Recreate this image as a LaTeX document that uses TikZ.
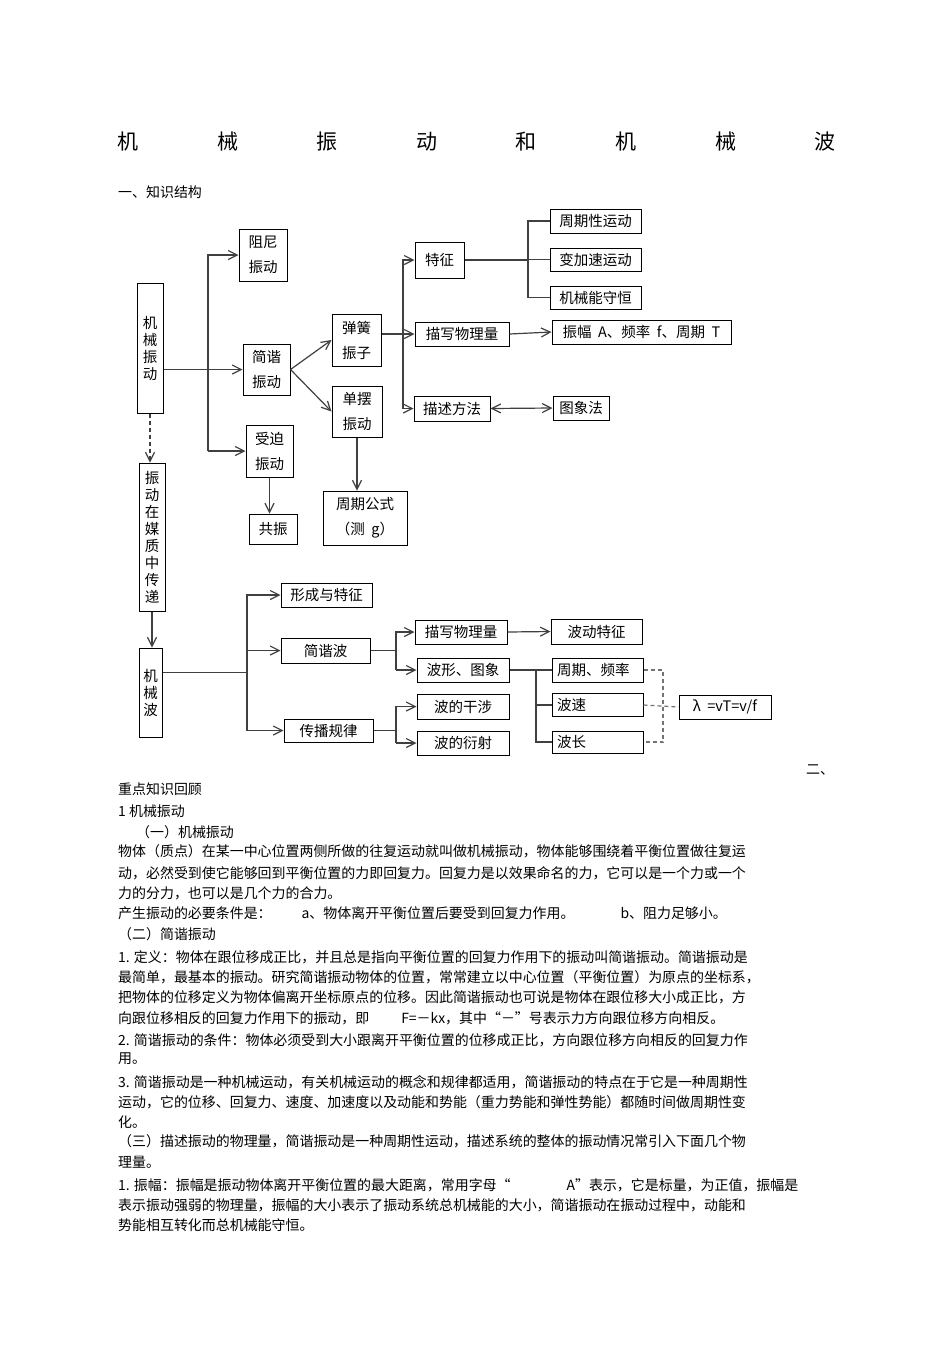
\documentclass[tikz,border=0pt]{standalone}
\usepackage{fontspec}
\setmainfont{Noto Sans CJK SC}
\usetikzlibrary{arrows.meta}
\tikzset{
  box/.style = {draw, line width=1pt, inner sep=0pt, align=center, font=\fontsize{14.5}{25}\selectfont},
  vbox/.style = {box, font=\fontsize{14.5}{17}\selectfont},
  lbox/.style = {box, align=left, text width=81pt, inner xsep=5pt},
  wh/.style 2 args = {minimum width=#1pt, minimum height=#2pt},
  ln/.style = {black!75, line width=1.2pt},
  arr/.style = {ln, -{Straight Barb[length=9pt,width=9pt]}},
  both/.style = {ln, {Straight Barb[length=9pt,width=9pt]}-{Straight Barb[length=9pt,width=9pt]}},
  dsh/.style = {black!55, line width=1.2pt, dash pattern=on 4pt off 3pt},
  txt/.style = {anchor=west, inner sep=0pt, font=\fontsize{13.95}{16}\selectfont},
}
\begin{document}
\begin{tikzpicture}[x=1pt, y=-1pt]
\fill[white] (0,0) rectangle (950,1345);
\useasboundingbox (0,0) rectangle (950,1345);

\foreach \c [count=\i] in {机,械,振,动,和,机,械,波}
  \node[font=\fontsize{21}{21}\selectfont] (ti\i) at ({128+99.6*(\i-1)},142) {\c};
\node[txt] (h1) at (118,192) {一、知识结构};

% vibration
\node[vbox, wh={26}{130}] (jxzd) at (150,348) {机\\械\\振\\动};
\node[vbox, wh={26}{148}] (zdcb) at (152,537) {振\\动\\在\\媒\\质\\中\\传\\递};
\node[vbox, wh={23}{89}] (jxb) at (150.5,692.5) {机\\械\\波};
\node[box, wh={48}{52}] (zn) at (263,255) {阻尼\\振动};
\node[box, wh={47}{51}] (jx) at (266.5,369.5) {简谐\\振动};
\node[box, wh={47}{52}] (sp) at (269.5,451) {受迫\\振动};
\node[box, wh={48}{30}] (gz) at (273,529) {共振};
\node[box, wh={49}{52}] (th) at (356.5,340) {弹簧\\振子};
\node[box, wh={50}{51}] (db) at (357,411.5) {单摆\\振动};
\node[box, wh={84}{54}] (zqgs) at (365,518) {周期公式\\（测\ \ g）};
\node[box, wh={49}{36}] (tz) at (439.5,260) {特征};
\node[box, wh={94}{24}] (mx) at (462,334) {描写物理量};
\node[box, wh={76}{25}] (ms) at (452,408.5) {描述方法};
\node[box, wh={91}{24}] (zqx) at (595.5,221) {周期性运动};
\node[box, wh={91}{23}] (bjs) at (595.5,259.5) {变加速运动};
\node[box, wh={91}{23}] (jxn) at (595.5,297.5) {机械能守恒};
\node[box, wh={179}{24}] (zf) at (641.5,332) {振幅\ \ A、频率\ \ f、周期\ \ T};
\node[box, wh={56}{24}] (txf) at (581,408) {图象法};

% wave
\node[box, wh={91}{24}] (xc) at (326.5,595) {形成与特征};
\node[box, wh={89}{25}] (jxbo) at (325.5,650.5) {简谐波};
\node[box, wh={89}{23}] (cb) at (328.5,730.5) {传播规律};
\node[box, wh={92}{24}] (mxb) at (461,632) {描写物理量};
\node[box, wh={92}{24}] (bx) at (463,670) {波形、图象};
\node[box, wh={92}{25}] (gs) at (463,706.5) {波的干涉};
\node[box, wh={92}{24}] (ys) at (463,743) {波的衍射};
\node[box, wh={91}{25}] (bdtz) at (596.5,631.5) {波动特征};
\node[lbox, wh={91}{24}] (zqpl) at (597.5,670) {周期、频率};
\node[lbox, wh={91}{23}] (bs) at (597.5,705) {波速};
\node[lbox, wh={91}{22}] (bc) at (597.5,742) {波长};
\node[box, wh={92}{24}] (lam) at (725,707) {λ\ \ =vT=v/f};

\coordinate (b1) at (208,0);
\coordinate (b2) at (403,0);
\coordinate (b3) at (528,0);
\coordinate (b4) at (247,0);
\coordinate (b5) at (396,0);
\coordinate (b6) at (536,0);
\coordinate (b7) at (663,0);
\coordinate (jxbout) at ([yshift=20pt]jxb.east);

\draw[arr] (jxzd.east |- jx.west) -- (jx.west);
\draw[arr] (b1 |- sp.west) -- (b1 |- zn.west) -- (zn.west);
\draw[arr] (b1 |- sp.west) -- (sp.west);
\draw[arr] (jx.east) -- (th.west);
\draw[arr] (jx.east) -- (db.west);
\draw[arr] (db.south) -- (db.south |- zqgs.north);
\draw[arr] (sp.south) -- (sp.south |- gz.north);
\draw[arr, dash pattern=on 4pt off 3pt] (jxzd.south) -- (jxzd.south |- zdcb.north);
\draw[arr] (zdcb.south) -- (zdcb.south |- jxb.north);

\draw[arr] (th.east |- mx.west) -- (mx.west);
\draw[arr] (b2 |- ms.west) -- (b2 |- tz.west) -- (tz.west);
\draw[arr] (b2 |- ms.west) -- (ms.west);
\draw[ln] (tz.east) -- (b3 |- tz.east);
\draw[ln] (zqx.west) -- (b3 |- zqx.west) -- (b3 |- jxn.west) -- (jxn.west);
\draw[ln] (b3 |- bjs.west) -- (bjs.west);
\draw[arr] (mx.east) -- (zf.west);
\draw[both] (ms.east) -- (txf.west);

\draw[ln] (jxbout) -- (b4 |- jxbout);
\draw[arr] (b4 |- cb.west) -- (b4 |- xc.west) -- (xc.west);
\draw[arr] (b4 |- jxbo.west) -- (jxbo.west);
\draw[arr] (b4 |- cb.west) -- (cb.west);
\draw[ln] (jxbo.east) -- (b5 |- jxbo.east);
\draw[arr] (b5 |- bx.west) -- (b5 |- mxb.west) -- (mxb.west);
\draw[arr] (b5 |- bx.west) -- (bx.west);
\draw[ln] (cb.east) -- (b5 |- cb.east);
\draw[arr] (b5 |- ys.west) -- (b5 |- gs.west) -- (gs.west);
\draw[arr] (b5 |- ys.west) -- (ys.west);
\draw[arr] (mxb.east) -- (bdtz.west);
\draw[ln] (bx.east) -- (b6 |- bx.east);
\draw[ln] (zqpl.west) -- (b6 |- zqpl.west) -- (b6 |- bc.west) -- (bc.west);
\draw[ln] (b6 |- bs.west) -- (bs.west);
\draw[dsh] (zqpl.east) -- (b7 |- zqpl.east) -- (b7 |- bc.east) -- (bc.east);
\draw[dsh] (bs.east) -- (lam.west);

% text
\node[txt] (s2) at (806,770) {二、};
\node[txt] (p1) at (118,789) {重点知识回顾};
\node[txt] (p2) at (118,811) {1 机械振动};
\node[txt] (p3) at (136,832) {（一）机械振动};
\node[txt] (p4) at (118,851) {物体（质点）在某一中心位置两侧所做的往复运动就叫做机械振动，物体能够围绕着平衡位置做往复运};
\node[txt] (p5) at (118,873) {动，必然受到使它能够回到平衡位置的力即回复力。回复力是以效果命名的力，它可以是一个力或一个};
\node[txt] (p6) at (118,893) {力的分力，也可以是几个力的合力。};
\node[txt] (p7) at (118,913) {产生振动的必要条件是：\hspace{30pt}a、物体离开平衡位置后要受到回复力作用。\hspace{46pt}b、阻力足够小。};
\node[txt] (p8) at (118,934) {（二）简谐振动};
\node[txt] (p9) at (118,957) {1. 定义：物体在跟位移成正比，并且总是指向平衡位置的回复力作用下的振动叫简谐振动。简谐振动是};
\node[txt] (p10) at (118,977) {最简单，最基本的振动。研究简谐振动物体的位置，常常建立以中心位置（平衡位置）为原点的坐标系，};
\node[txt] (p11) at (118,997) {把物体的位移定义为物体偏离开坐标原点的位移。因此简谐振动也可说是物体在跟位移大小成正比，方};
\node[txt] (p12) at (118,1018) {向跟位移相反的回复力作用下的振动，即\hspace{32pt}F=－kx，其中“－”号表示力方向跟位移方向相反。};
\node[txt] (p13) at (118,1040) {2. 简谐振动的条件：物体必须受到大小跟离开平衡位置的位移成正比，方向跟位移方向相反的回复力作};
\node[txt] (p14) at (118,1059) {用。};
\node[txt] (p15) at (118,1082) {3. 简谐振动是一种机械运动，有关机械运动的概念和规律都适用，简谐振动的特点在于它是一种周期性};
\node[txt] (p16) at (118,1102) {运动，它的位移、回复力、速度、加速度以及动能和势能（重力势能和弹性势能）都随时间做周期性变};
\node[txt] (p17) at (118,1122) {化。};
\node[txt] (p18) at (118,1141) {（三）描述振动的物理量，简谐振动是一种周期性运动，描述系统的整体的振动情况常引入下面几个物};
\node[txt] (p19) at (118,1162) {理量。};
\node[txt] (p20) at (118,1185) {1. 振幅：振幅是振动物体离开平衡位置的最大距离，常用字母“\hspace{56pt}A”表示，它是标量，为正值，振幅是};
\node[txt] (p21) at (118,1205) {表示振动强弱的物理量，振幅的大小表示了振动系统总机械能的大小，简谐振动在振动过程中，动能和};
\node[txt] (p22) at (118,1225) {势能相互转化而总机械能守恒。};
\end{tikzpicture}
\end{document}
